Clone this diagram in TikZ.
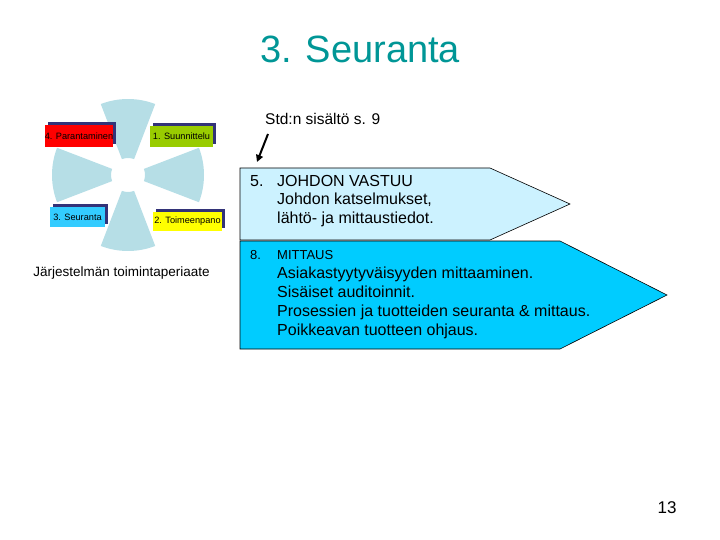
\documentclass[tikz,border=0pt]{standalone}
\usepackage{fontspec}
\setmainfont{Liberation Sans}
\usetikzlibrary{arrows.meta}
\definecolor{titlecol}{RGB}{0,150,150}
\definecolor{wedge}{RGB}{182,222,230}
\definecolor{pentA}{RGB}{204,242,255}
\definecolor{pentB}{RGB}{0,204,255}
\definecolor{shadowcol}{RGB}{51,51,120}
\definecolor{redbox}{RGB}{255,0,0}
\definecolor{greenbox}{RGB}{153,204,0}
\definecolor{cyanbox}{RGB}{51,204,255}
\definecolor{yellowbox}{RGB}{255,255,0}
\tikzset{
  lbl/.style={inner sep=0pt, outer sep=0pt, font=\fontsize{9.2}{10}\selectfont, text=black},
  body/.style={anchor=base west, inner sep=0pt, font=\fontsize{16}{19}\selectfont, text=black},
  small/.style={anchor=base west, inner sep=0pt, font=\fontsize{13}{15}\selectfont, text=black},
  pent/.style={draw=black, line width=0.6pt},
}
\newcommand{\wedgesector}[1]{%
  \fill[wedge] ({128+17*cos(#1-21)},{175-17*sin(#1-21)}) -- ({128+76*cos(#1-21)},{175-76*sin(#1-21)})
    arc[start angle={-(#1-21)}, end angle={-(#1+21)}, radius=76] -- ({128+17*cos(#1+21)},{175-17*sin(#1+21)})
    arc[start angle={-(#1+21)}, end angle={-(#1-21)}, radius=17] -- cycle;}
\newcommand{\shadowbox}[6]{% x1 y1 x2 y2 color text
  \fill[shadowcol] (#1+3,#2-3) rectangle (#3+3,#4-3);
  \fill[#5] (#1,#2) rectangle (#3,#4);
  \node[lbl] at ({(#1+#3)/2},{(#2+#4)/2}) {#6};}
\begin{document}
\begin{tikzpicture}[x=1pt,y=-1pt]
\useasboundingbox (0,0) rectangle (720,540);
% title
\node[inner sep=0pt, anchor=base, text=titlecol, font=\fontsize{38}{40}\selectfont] (title) at (360,63) {3. Seuranta};
% left cycle diagram
\wedgesector{90}
\wedgesector{0}
\wedgesector{180}
\wedgesector{270}
\shadowbox{45}{147}{113}{125}{redbox}{4. Parantaminen}
\shadowbox{150}{147}{213}{126}{greenbox}{1. Suunnittelu}
\shadowbox{50}{227}{105}{207}{cyanbox}{3. Seuranta}
\shadowbox{153}{231}{222}{212}{yellowbox}{2. Toimeenpano}
\node[inner sep=0pt, anchor=base, font=\fontsize{13.5}{15}\selectfont] (caption) at (121.5,276) {Järjestelmän toimintaperiaate};
% std note and arrow
\node[inner sep=0pt, anchor=base west, font=\fontsize{15.5}{18}\selectfont] (std) at (265,125) {Std:n sisältö s. 9};
\coordinate (arrs) at (268,134);
\coordinate (arre) at (257,162);
\draw[line width=2pt, -{Triangle[length=7pt,width=7pt]}] (arrs) -- (arre);
% pentagons
\draw[pent, fill=pentA] (240,168) -- (490,168) -- (570,204) -- (490,240) -- (240,240) -- cycle;
\draw[pent, fill=pentB] (240,241) -- (560,241) -- (667,295) -- (560,349) -- (240,349) -- cycle;
% texts in pentagon 1
\node[body] (n5) at (250,187) {5.};
\node[body] (t1) at (277,187) {JOHDON VASTUU};
\node[body] (t2) at (277,205) {Johdon katselmukset,};
\node[body] (t3) at (277,224) {lähtö- ja mittaustiedot.};
% texts in pentagon 2
\node[small] (n8) at (250,259) {8.};
\node[small] (m0) at (277,259) {MITTAUS};
\node[body] (m1) at (277,278) {Asiakastyytyväisyyden mittaaminen.};
\node[body] (m2) at (277,297) {Sisäiset auditoinnit.};
\node[body] (m3) at (277,316) {Prosessien ja tuotteiden seuranta \& mittaus.};
\node[body] (m4) at (277,335) {Poikkeavan tuotteen ohjaus.};
% page number
\node[inner sep=0pt, anchor=base, font=\fontsize{17}{20}\selectfont] (pg) at (667,513) {13};
\end{tikzpicture}
\end{document}
